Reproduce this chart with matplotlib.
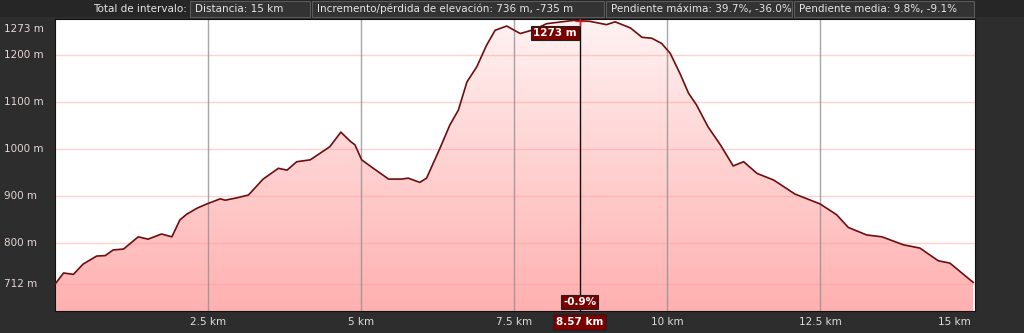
import numpy as np
import matplotlib.pyplot as plt
from matplotlib.patches import Rectangle

# elevation profile, km vs m
dist = [0.0, 0.14, 0.30, 0.46, 0.68, 0.82, 0.95, 1.12, 1.36, 1.52, 1.74, 1.91, 2.04, 2.15,
        2.32, 2.48, 2.70, 2.78, 2.97, 3.16, 3.40, 3.65, 3.79, 3.95, 4.17, 4.33, 4.49, 4.67,
        4.82, 4.90, 5.01, 5.20, 5.45, 5.66, 5.77, 5.96, 6.07, 6.29, 6.45, 6.59, 6.73, 6.89,
        7.05, 7.19, 7.38, 7.60, 7.84, 8.03, 8.47, 8.74, 9.01, 9.15, 9.40, 9.59, 9.75, 9.91,
        10.05, 10.21, 10.35, 10.48, 10.67, 10.87, 11.08, 11.25, 11.47, 11.74, 12.09, 12.50,
        12.77, 12.96, 13.26, 13.51, 13.86, 14.13, 14.43, 14.62, 15.0]
elev = [712, 736, 733, 755, 772, 773, 785, 787, 813, 808, 819, 813, 849, 861,
        874, 883, 894, 891, 896, 902, 936, 959, 955, 973, 977, 991, 1005, 1036,
        1017, 1009, 977, 959, 936, 936, 938, 929, 938, 1002, 1051, 1083, 1143, 1175,
        1221, 1253, 1262, 1246, 1255, 1267, 1274, 1272, 1265, 1271, 1258, 1238, 1236, 1225,
        1204, 1161, 1119, 1094, 1047, 1009, 964, 973, 948, 934, 904, 883,
        860, 833, 817, 813, 796, 789, 762, 757, 716]

yticks = [712, 800, 900, 1000, 1100, 1200, 1273]
ytick_labels = ["712 m", "800 m", "900 m", "1000 m", "1100 m", "1200 m", "1273 m"]
xticks = [2.5, 5, 7.5, 10, 12.5, 15]
xtick_labels = ["2.5 km", "5 km", "7.5 km", "10 km", "12.5 km", "15 km"]

header_label = "Total de intervalo:"
header_boxes = ["Distancia: 15 km",
                "Incremento/pérdida de elevación: 736 m, -735 m",
                "Pendiente máxima: 39.7%, -36.0%",
                "Pendiente media: 9.8%, -9.1%"]

cursor_km = 8.57
cursor_elev = 1273
cursor_slope = "-0.9%"

bg = "#2d2d2d"
fig = plt.figure(figsize=(10.24, 3.33), dpi=100, facecolor=bg)
W, H = 1024, 333

def fx(px):
    return px / W

def fy(py):
    return 1 - py / H

ax = fig.add_axes([fx(55), fy(311), 920 / W, 292 / H])
ax.set_facecolor("white")
x0, x1, y0, y1 = 0, 15.03, 655, 1277
ax.set_xlim(x0, x1)
ax.set_ylim(y0, y1)

# gradient fill under the curve
grad = np.linspace(0, 1, 256).reshape(-1, 1)
cmap = plt.matplotlib.colors.LinearSegmentedColormap.from_list("pk", ["#ffb0b0", "#fff2f2"])
im = ax.imshow(grad, extent=[x0, x1, y0, y1], origin="lower", aspect="auto", cmap=cmap, zorder=1)
poly = ax.fill_between(dist, elev, y0, color="none", lw=0)
path = poly.get_paths()[0]
im.set_clip_path(path, transform=ax.transData)

for y in yticks[:-1]:
    ax.axhline(y, color="#ff9a9a", lw=1, alpha=0.45, zorder=2)
for x in xticks[:-1]:
    ax.axvline(x, color="#909090", lw=1, alpha=0.8, zorder=2)

ax.plot(dist, elev, color="#6e0d0d", lw=1.2, zorder=4)

# cursor
ax.axvline(cursor_km, color="#111111", lw=1, zorder=5)
ax.plot([cursor_km], [cursor_elev], marker="+", color="#e02020", ms=7, mew=1, zorder=6)

box = dict(boxstyle="square,pad=0.2", fc="#7a0000", ec="#222222", lw=0.8)
ax.text(cursor_km - 0.05, 1248, f"{cursor_elev} m", ha="right", va="center", color="white",
        fontsize=7.5, fontweight="bold", bbox=box, zorder=7)
ax.text(cursor_km, 675, cursor_slope, ha="center", va="center", color="white",
        fontsize=7.5, fontweight="bold", bbox=box, zorder=7)

for s in ax.spines.values():
    s.set_color("#111111")
ax.set_xticks([])
ax.set_yticks([])

# y labels (top one is pushed down to stay inside the strip)
for v, lab in zip(yticks, ytick_labels):
    py = max(284.4 - (v - 712) * 0.47, 29)
    fig.text(fx(4), fy(py), lab, color="#e8d4d4", fontsize=7.5, ha="left", va="center")

# x labels
for v, lab in zip(xticks, xtick_labels):
    px = 55 + v * 61.2
    if v == 15:
        fig.text(fx(px - 2), fy(322), lab, color="#dddddd", fontsize=7.5, ha="right", va="center")
    else:
        fig.text(fx(px), fy(322), lab, color="#dddddd", fontsize=7.5, ha="center", va="center")
fig.text(fx(55 + cursor_km * 61.2), fy(322), f"{cursor_km} km", color="white", fontsize=7.5,
         fontweight="bold", ha="center", va="center",
         bbox=dict(boxstyle="square,pad=0.25", fc="#7a0000", ec="#222222", lw=0.8))

# header bar
fig.patches.append(Rectangle((0, fy(17)), 1, 17 / H, transform=fig.transFigure,
                             fc="#262626", ec="none", zorder=0))
fig.text(fx(187), fy(9), header_label, color="#e6e6e6", fontsize=7.5, ha="right", va="center")
edges = [190, 312, 606, 794, 976]
for i, lab in enumerate(header_boxes):
    a, b = edges[i], edges[i + 1] - 2
    fig.patches.append(Rectangle((fx(a), fy(17)), (b - a) / W, 16 / H, transform=fig.transFigure,
                                 fc="#333333", ec="#5a5a5a", lw=0.8, zorder=1))
    fig.text(fx(a + 5), fy(9), lab, color="#e6e6e6", fontsize=7.5, ha="left", va="center")

fig.savefig("out.png", dpi=100, facecolor=bg)
